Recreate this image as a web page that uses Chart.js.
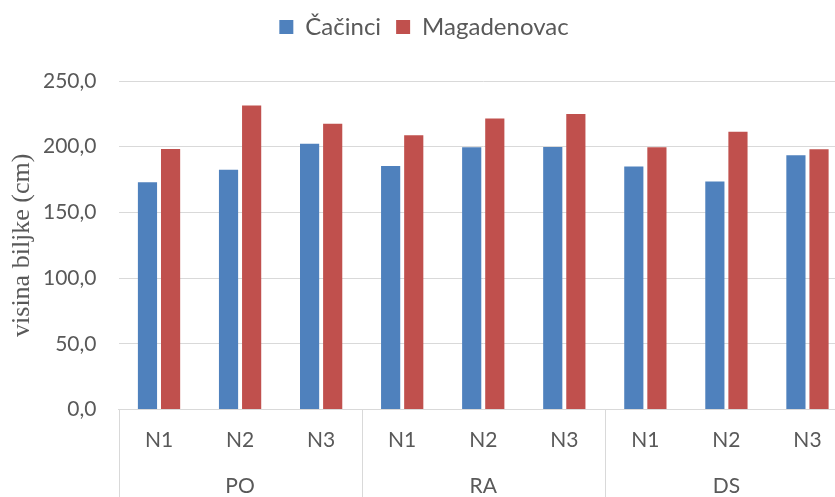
<!DOCTYPE html>
<html>
<head>
<meta charset="utf-8">
<script src="https://cdn.jsdelivr.net/npm/chart.js@4.4.1/dist/chart.umd.min.js"></script>
<style>
  html, body { margin: 0; padding: 0; background: #ffffff; overflow: hidden; }
  #wrap { position: relative; width: 848px; height: 497px; }
</style>
</head>
<body>
<div id="wrap"><canvas id="c"></canvas></div>
<script>
// ---- data ----
const categories = ['N1', 'N2', 'N3', 'N1', 'N2', 'N3', 'N1', 'N2', 'N3'];
const groups = ['PO', 'RA', 'DS'];
const seriesNames = ['Čačinci', 'Magadenovac'];
const cacinci = [172.9, 182.5, 202.3, 185.3, 199.5, 199.7, 185.0, 173.6, 193.4];
const magadenovac = [198.2, 231.4, 217.5, 208.8, 221.5, 224.8, 199.5, 211.4, 198.0];
const yTicks = [0, 50, 100, 150, 200, 250];

const GRID = '#d9d9d9';
const TXT = '#595959';
const SANS = 'Lato, "Open Sans", sans-serif';

const separators = {
  id: 'separators',
  afterDraw(chart) {
    const xs = chart.scales.x;
    const ctx = chart.ctx;
    const n = categories.length;
    const per = groups.length ? n / groups.length : n;
    ctx.save();
    ctx.strokeStyle = GRID;
    ctx.lineWidth = 1;
    for (let b = 0; b <= n; b += per) {
      const x = Math.round(xs.left + b * (xs.width / n)) + 0.5;
      ctx.beginPath();
      ctx.moveTo(x, xs.top);
      ctx.lineTo(x, chart.height);
      ctx.stroke();
    }
    ctx.restore();
  }
};

const legendHeight = {
  id: 'legendHeight',
  afterInit(chart) {
    const lg = chart.legend;
    if (!lg) return;
    const orig = lg.fit.bind(lg);
    lg.fit = function () { orig(); this.height = 81; };
  }
};

new Chart(document.getElementById('c'), {
  type: 'bar',
  data: {
    labels: categories,
    datasets: [
      { label: seriesNames[0], data: cacinci, backgroundColor: '#4F81BD', barPercentage: 0.83, categoryPercentage: 0.57 },
      { label: seriesNames[1], data: magadenovac, backgroundColor: '#C0504D', barPercentage: 0.83, categoryPercentage: 0.57 }
    ]
  },
  options: {
    responsive: true,
    maintainAspectRatio: false,
    animation: false,
    layout: { padding: 0 },
    plugins: {
      legend: {
        position: 'top',
        labels: {
          boxWidth: 14, boxHeight: 14, padding: 15,
          color: TXT,
          font: { family: SANS, size: 24 }
        }
      },
      tooltip: { enabled: false }
    },
    scales: {
      x: {
        type: 'category',
        offset: true,
        grid: { display: false, drawTicks: false },
        border: { display: true, color: GRID, width: 1 },
        ticks: { color: TXT, font: { family: SANS, size: 21 }, padding: 18, maxRotation: 0, autoSkip: false },
        afterFit(s) { s.height = 38.5; }
      },
      x2: {
        type: 'category',
        labels: groups,
        offset: true,
        position: 'bottom',
        grid: { display: false, drawTicks: false },
        border: { display: false },
        ticks: { color: TXT, font: { family: SANS, size: 21 }, padding: 26, maxRotation: 0, autoSkip: false },
        afterFit(s) { s.height = 49; }
      },
      y: {
        min: 0, max: 250,
        afterBuildTicks(s) { s.ticks = yTicks.map(v => ({ value: v })); },
        grid: { color: GRID, lineWidth: 1, drawTicks: false },
        border: { display: false },
        ticks: {
          color: TXT, font: { family: SANS, size: 21 }, padding: 22,
          callback: v => v.toFixed(1).replace('.', ',')
        },
        title: {
          display: true, text: 'visina biljke (cm)', color: TXT,
          font: { family: '"Liberation Serif", "Times New Roman", serif', size: 26 },
          padding: { top: 7, bottom: 0 }
        },
        afterFit(s) { s.width = 118.5; }
      }
    }
  },
  plugins: [separators, legendHeight]
});
</script>
</body>
</html>
